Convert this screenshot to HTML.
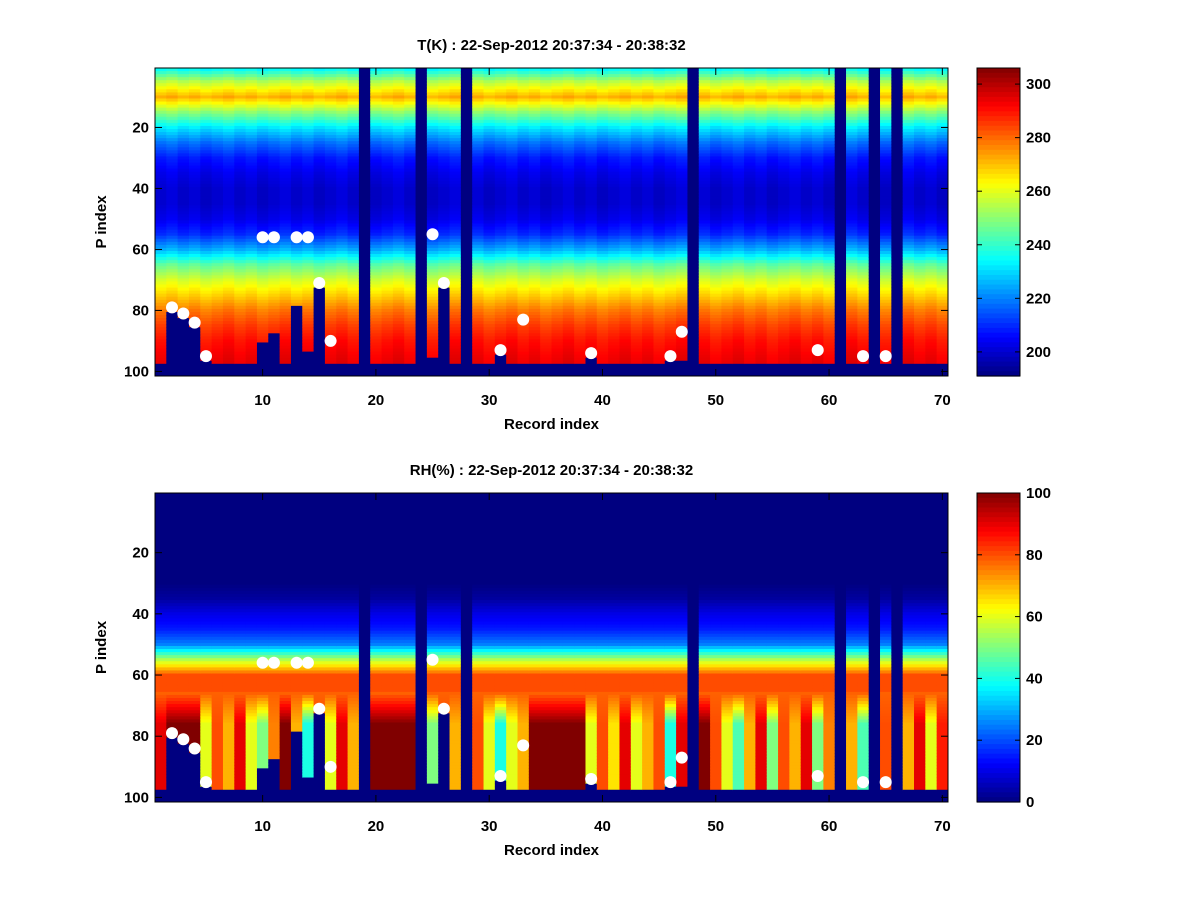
<!DOCTYPE html>
<html><head><meta charset="utf-8"><style>
body{margin:0;background:#fff;font-family:"Liberation Sans",sans-serif}
svg text{font-family:"Liberation Sans",sans-serif;font-weight:bold;font-size:15px;fill:#000}
</style></head><body>
<svg id="c" width="1200" height="900"></svg>
<script>
const records=Array.from({length:70},(_,i)=>i+1);
const profRows=[1,5,10,15,20,25,30,35,40,45,50,55,60,65,70,75,80,85,90,95,100];
const tProfile=[235,255,272,250,232,218,208,203,200,200,203,210,225,245,258,268,278,285,290,293,295];
const rhProfile=[0,0,0,0,0,0,0,3,10,15,25,55,80,80,75,0,0,0,0,0,0];
const missingCols=[19,24,28,48,61,64,66];
const cutoffCols=[2,3,4,5,10,11,13,14,15,25,26,31,39,46,47];
const cutoffRows=[80,82,85,96,90,87,78,93,72,95,72,94,95,96,96];
const rhLow=[90,100,100,100,60,80,70,90,60,50,75,100,70,40,80,60,90,70,0,100,100,100,100,0,50,80,70,0,80,60,40,60,70,100,100,100,100,100,60,80,65,90,60,70,80,40,90,0,100,80,60,45,70,90,50,80,70,90,50,75,0,70,45,0,80,0,70,90,60,85];
const dotX=[2,3,4,5,10,11,13,14,15,16,25,26,31,33,39,46,47,59,63,65];
const dotY=[79,81,84,95,56,56,56,56,71,90,55,71,93,83,94,95,87,93,95,95];
const xTicks=[10,20,30,40,50,60,70];
const yTicks=[20,40,60,80,100];
const tTicks=[200,220,240,260,280,300];
const rhTicks=[0,20,40,60,80,100];
const NS="http://www.w3.org/2000/svg";
const svg=document.getElementById('c');
function el(t,a,p){const e=document.createElementNS(NS,t);for(const k in a)e.setAttribute(k,a[k]);(p||svg).appendChild(e);return e;}
function jet(v){v=Math.max(0,Math.min(1,v));const f=x=>Math.round(255*Math.max(0,Math.min(1,x)));
return `rgb(${f(1.5-Math.abs(4*v-3))},${f(1.5-Math.abs(4*v-2))},${f(1.5-Math.abs(4*v-1))})`;}
function interp(r,arr){for(let i=0;i<profRows.length-1;i++){if(r<=profRows[i+1]){const t=(r-profRows[i])/(profRows[i+1]-profRows[i]);return arr[i]+t*(arr[i+1]-arr[i]);}}return arr[arr.length-1];}
const L=155,R=948,NR=101;
function panel(top,bot,kind,title,cmin,cmax,cticks){
 const g=el('g',{});
 
 const w=(R-L)/70,h=(bot-top)/NR;
 const xs=c=>L+(c-1)*w, ys=r=>top+(r-1)*h;
 records.forEach((c,ci)=>{
  const miss=missingCols.includes(c);const k=cutoffCols.indexOf(c);const cut=k>=0?cutoffRows[k]:97;
  for(let r=1;r<=NR;r++){
   let v;
   if(miss||r>97||r>cut) v=cmin;
   else if(kind==='temperature') v=interp(r,tProfile)+((c*7)%5-2)*0.8;
   else { if(r<66) v=interp(r,rhProfile); else {const t=Math.min(1,(r-66)/10); v=78*(1-t)+rhLow[ci]*t;} }
   const rc=el('rect',{x:xs(c),y:ys(r),width:w+0.5,height:h+0.5,fill:jet((v-cmin)/(cmax-cmin))},g);
   
  }
 });
 dotX.forEach((d,i)=>{const ci=el('circle',{cx:xs(d)+w/2,cy:ys(dotY[i])+h/2,r:6,fill:'#fff'},g);
  });
 el('rect',{x:L,y:top,width:R-L,height:bot-top,fill:'none',stroke:'#000','stroke-width':1},g);
 xTicks.forEach(t=>{const x=L+(t-0.5)*w;el('line',{x1:x,x2:x,y1:bot,y2:bot-7,stroke:'#000'},g);
  el('line',{x1:x,x2:x,y1:top,y2:top+7,stroke:'#000'},g);
  const tx=el('text',{x:x,y:bot+29,'text-anchor':'middle'},g);tx.textContent=t;});
 yTicks.forEach(t=>{const y=top+(t-0.5)*h;el('line',{x1:L,x2:L+7,y1:y,y2:y,stroke:'#000'},g);
  el('line',{x1:R,x2:R-7,y1:y,y2:y,stroke:'#000'},g);
  const tx=el('text',{x:L-6,y:y+5,'text-anchor':'end'},g);tx.textContent=t;});
 const tt=el('text',{x:(L+R)/2,y:top-18,'text-anchor':'middle','font-size':'14'},g);tt.textContent=title;
 
 const xl=el('text',{x:(L+R)/2,y:bot+53,'text-anchor':'middle','font-size':'17'},g);xl.textContent='Record index';
 
 const yl=el('text',{x:106,y:(top+bot)/2,'text-anchor':'middle','font-size':'17',transform:`rotate(-90 106 ${(top+bot)/2})`},g);yl.textContent='P index';
 
 const cb=el('g',{},g);
 const n=64;for(let i=0;i<n;i++){el('rect',{x:977,y:top+(bot-top)*i/n,width:43,height:(bot-top)/n+0.6,fill:jet(1-(i+0.5)/n)},cb);}
 el('rect',{x:977,y:top,width:43,height:bot-top,fill:'none',stroke:'#000'},cb);
 cticks.forEach(t=>{const y=bot-(t-cmin)/(cmax-cmin)*(bot-top);
  el('line',{x1:977,x2:982,y1:y,y2:y,stroke:'#000'},cb);el('line',{x1:1020,x2:1015,y1:y,y2:y,stroke:'#000'},cb);
  const tx=el('text',{x:1026,y:y+5},cb);tx.textContent=t;});
}
panel(68,376,'temperature','T(K) : 22-Sep-2012 20:37:34 - 20:38:32',191,306,tTicks);
panel(493,802,'humidity','RH(%) : 22-Sep-2012 20:37:34 - 20:38:32',0,100,rhTicks);
</script>
</body></html>
